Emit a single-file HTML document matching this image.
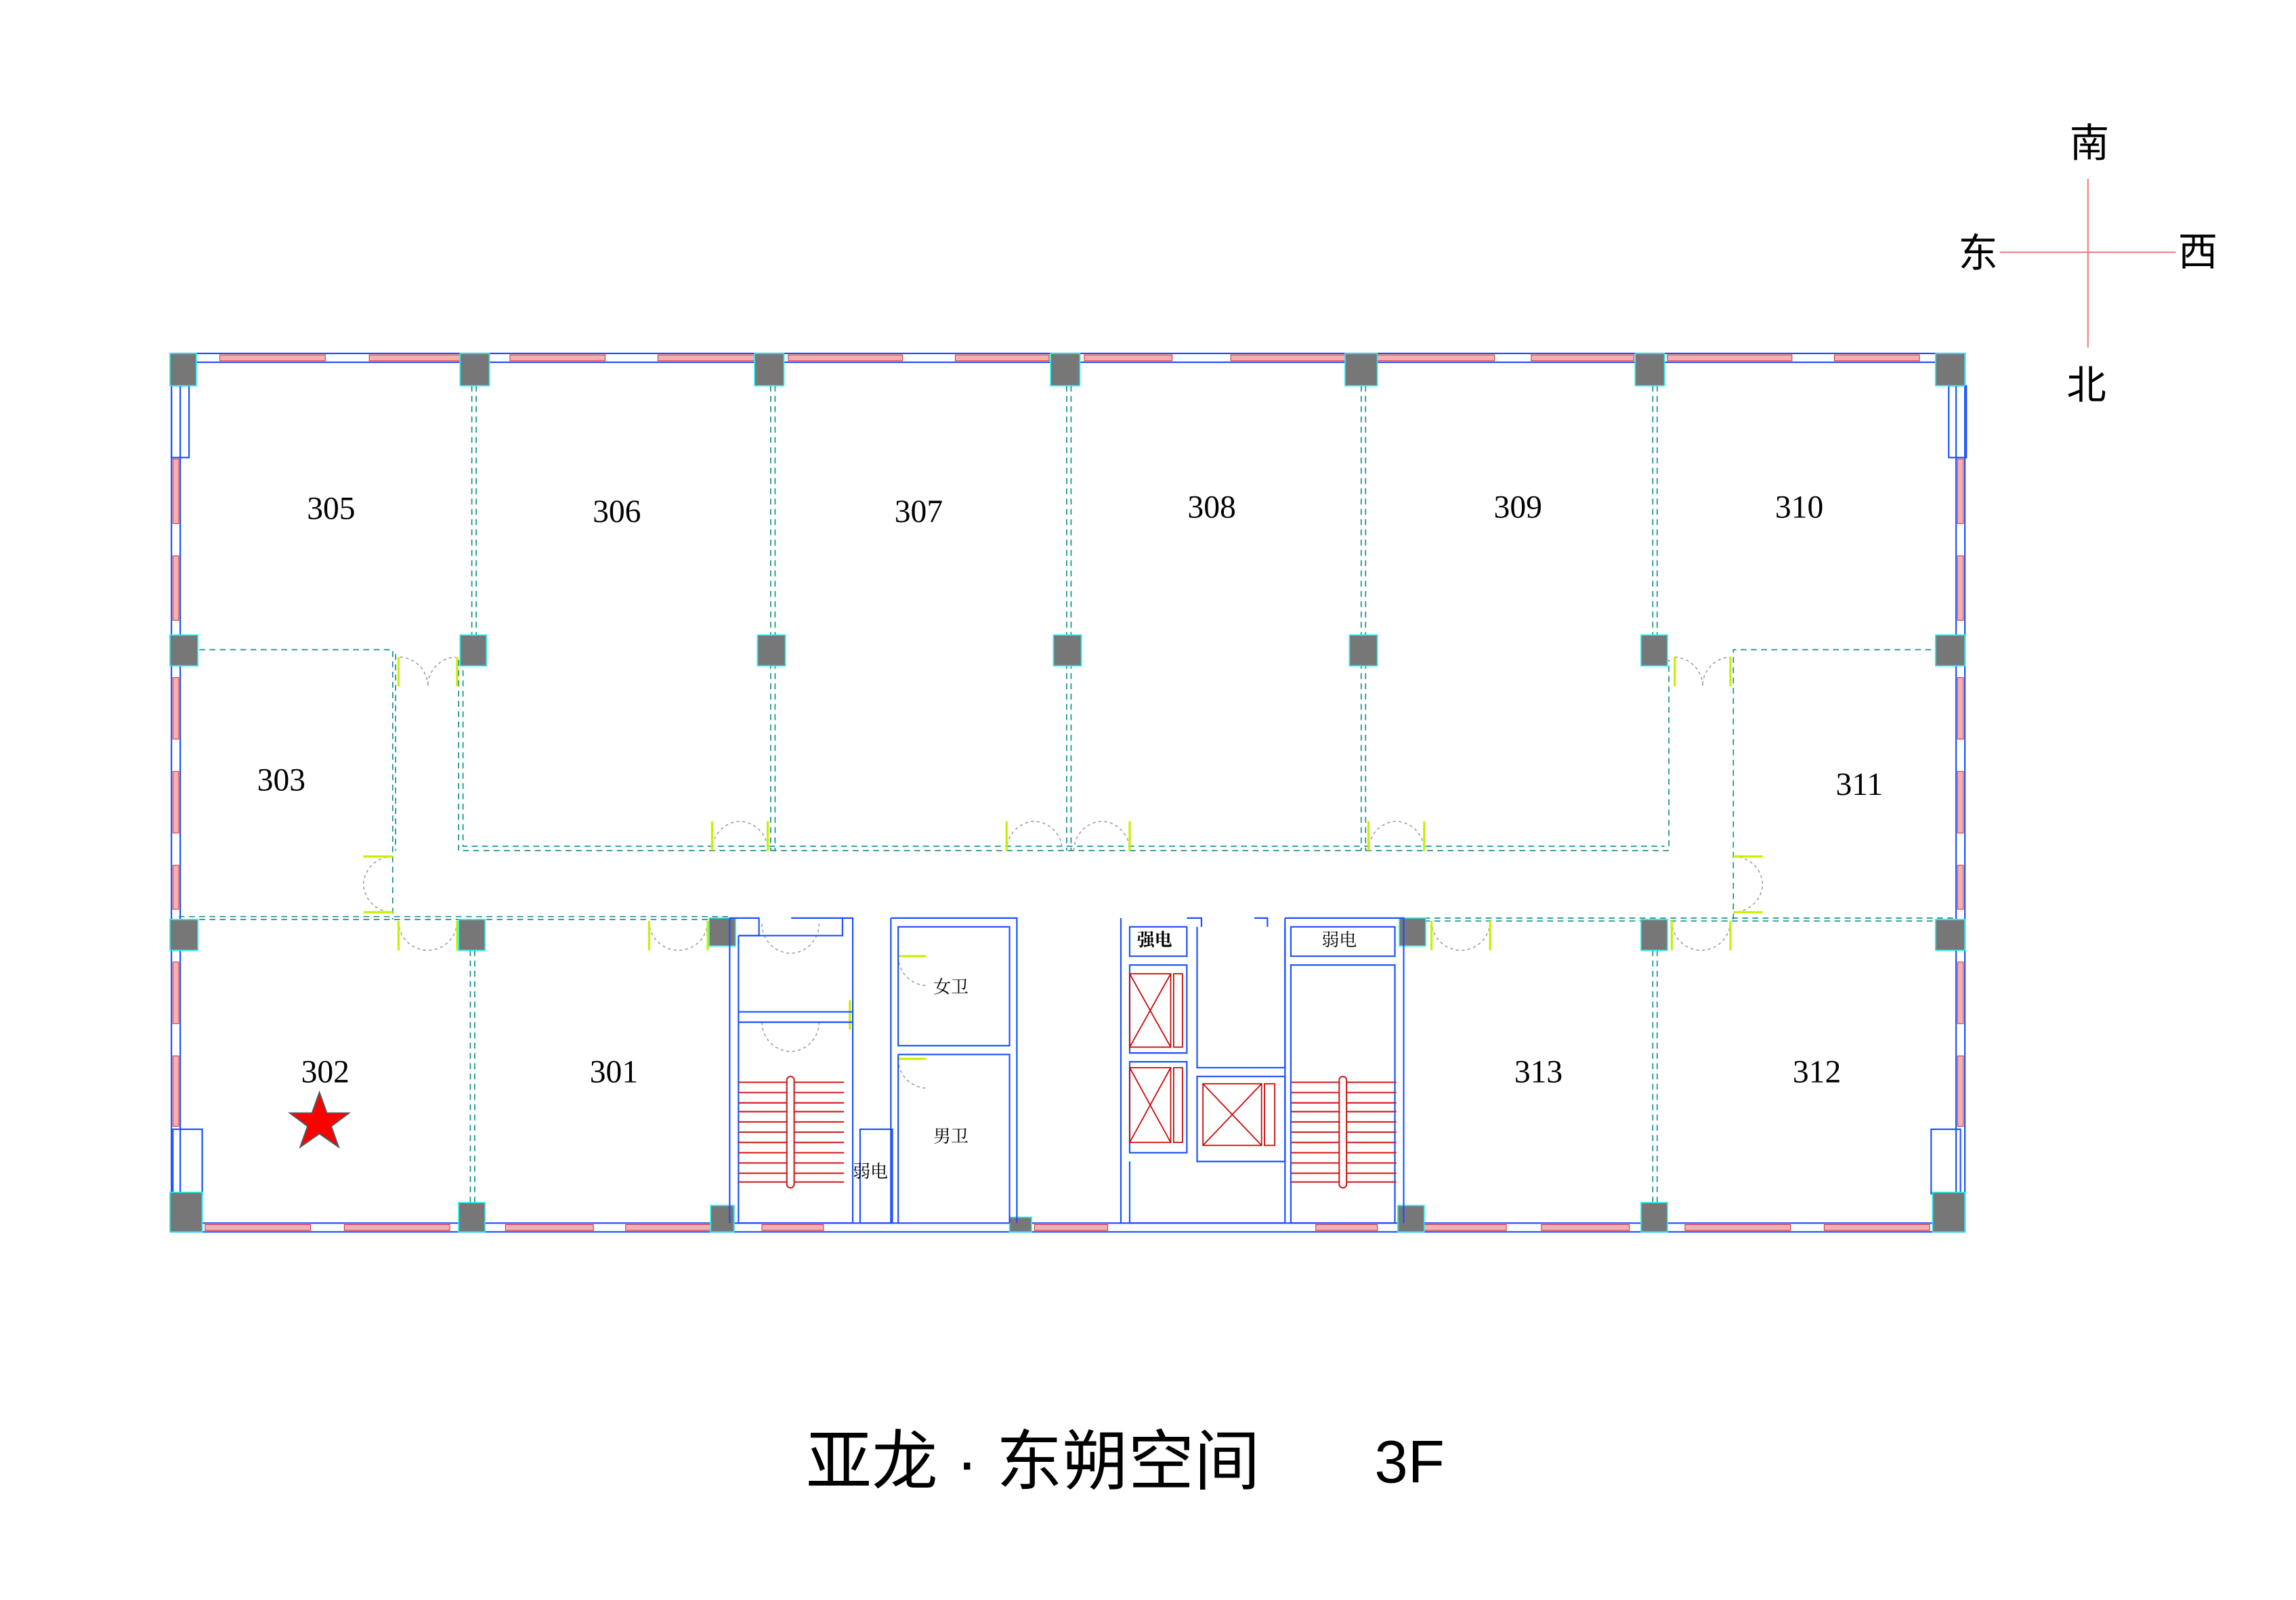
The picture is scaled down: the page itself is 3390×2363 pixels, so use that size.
<!DOCTYPE html>
<html><head><meta charset="utf-8"><style>
html,body{margin:0;padding:0;background:#fff}
svg{display:block}
text{font-family:"Liberation Serif","Noto Serif CJK SC",serif}
.cj{font-family:"Liberation Sans","Noto Sans CJK SC",sans-serif}
</style></head><body>
<svg width="3390" height="2363" viewBox="0 0 1567 1091" preserveAspectRatio="none" xmlns="http://www.w3.org/2000/svg">
<rect width="1600" height="1100" fill="#fff"/>
<!-- compass -->
<line x1="1365" y1="172" x2="1485" y2="172" stroke="#f08080" stroke-width="1"/>
<line x1="1425" y1="122" x2="1425" y2="237" stroke="#f08080" stroke-width="1"/>
<text class="cj" x="1426" y="107" font-size="27" text-anchor="middle">南</text>
<text class="cj" x="1350" y="182" font-size="27" text-anchor="middle">东</text>
<text class="cj" x="1500" y="181" font-size="27" text-anchor="middle">西</text>
<text class="cj" x="1424" y="272" font-size="27" text-anchor="middle">北</text>

<!-- outer walls -->
<g fill="none" stroke="#1a4fff" stroke-width="1">
<rect x="117" y="241" width="1224" height="599"/>
<rect x="123" y="247" width="1212" height="587"/>
</g>
<!-- windows pink bands -->
<g fill="#f6b0b0" stroke="#e03030" stroke-width="0.5">
<rect x="150" y="242" width="72" height="4"/><rect x="252" y="242" width="62" height="4"/>
<rect x="348" y="242" width="65" height="4"/><rect x="449" y="242" width="66" height="4"/>
<rect x="538" y="242" width="78" height="4"/><rect x="652" y="242" width="64" height="4"/>
<rect x="740" y="242" width="60" height="4"/><rect x="840" y="242" width="78" height="4"/>
<rect x="940" y="242" width="80" height="4"/><rect x="1045" y="242" width="70" height="4"/>
<rect x="1138" y="242" width="85" height="4"/><rect x="1252" y="242" width="58" height="4"/>
<rect x="140" y="835" width="72" height="4"/><rect x="235" y="835" width="72" height="4"/>
<rect x="345" y="835" width="60" height="4"/><rect x="427" y="835" width="58" height="4"/>
<rect x="520" y="835" width="42" height="4"/><rect x="706" y="835" width="50" height="4"/>
<rect x="898" y="835" width="42" height="4"/><rect x="972" y="835" width="56" height="4"/>
<rect x="1052" y="835" width="60" height="4"/><rect x="1150" y="835" width="72" height="4"/>
<rect x="1245" y="835" width="72" height="4"/>
<rect x="118" y="313" width="4" height="44"/><rect x="118" y="379" width="4" height="44"/>
<rect x="118" y="462" width="4" height="42"/><rect x="118" y="526" width="4" height="42"/>
<rect x="118" y="590" width="4" height="30"/><rect x="118" y="656" width="4" height="42"/>
<rect x="118" y="720" width="4" height="48"/>
<rect x="1336" y="313" width="4" height="44"/><rect x="1336" y="379" width="4" height="44"/>
<rect x="1336" y="462" width="4" height="42"/><rect x="1336" y="526" width="4" height="42"/>
<rect x="1336" y="590" width="4" height="30"/><rect x="1336" y="656" width="4" height="42"/>
<rect x="1336" y="720" width="4" height="48"/>
</g>
<g fill="none" stroke="#1a4fff" stroke-width="1">
<rect x="117" y="263" width="12" height="49"/><rect x="1330" y="263" width="12" height="49"/>
<rect x="118" y="770" width="20" height="44"/><rect x="1318" y="770" width="20" height="44"/>
</g>

<!-- dashed partitions -->
<g fill="none" stroke="#1a9090" stroke-width="0.8" stroke-dasharray="4,3">
<path d="M313 450 V580 H1139 V450"/>
<path d="M316 450 V577 H1136"/>
<path d="M136 443 H268 V627"/><path d="M270 446 V580"/>
<path d="M1183 627 V443 H1322"/>
<path d="M122 625 H500"/><path d="M122 627 H500"/>
<path d="M958 626 H1335"/><path d="M958 628 H1335"/>
<line x1="322" y1="263" x2="322" y2="433"/><line x1="325" y1="263" x2="325" y2="433"/>
<line x1="526" y1="263" x2="526" y2="580"/><line x1="529" y1="263" x2="529" y2="580"/>
<line x1="728" y1="263" x2="728" y2="580"/><line x1="731" y1="263" x2="731" y2="580"/>
<line x1="929" y1="263" x2="929" y2="580"/><line x1="932" y1="263" x2="932" y2="580"/>
<line x1="1128" y1="263" x2="1128" y2="433"/><line x1="1131" y1="263" x2="1131" y2="433"/>
<line x1="321" y1="648" x2="321" y2="820"/><line x1="324" y1="648" x2="324" y2="820"/>
<line x1="1128" y1="648" x2="1128" y2="820"/><line x1="1131" y1="648" x2="1131" y2="820"/>
</g>

<!-- doors -->
<g fill="none" stroke="#999" stroke-width="0.7" stroke-dasharray="2,2">
<path d="M273 448 A20 20 0 0 1 292 468 A20 20 0 0 1 311 448"/>
<path d="M1143 448 A20 20 0 0 1 1162 468 A20 20 0 0 1 1181 448"/>
<path d="M486 580 A20 20 0 0 1 505 560 A20 20 0 0 1 524 580"/>
<path d="M687 580 A20 20 0 0 1 706 560 A20 20 0 0 1 725 580"/>
<path d="M733 580 A20 20 0 0 1 752 560 A20 20 0 0 1 771 580"/>
<path d="M934 580 A20 20 0 0 1 953 560 A20 20 0 0 1 972 580"/>
<path d="M268 584 A20 20 0 0 0 248 603 A20 20 0 0 0 268 622"/>
<path d="M1183 584 A20 20 0 0 1 1203 603 A20 20 0 0 1 1183 622"/>
<path d="M272 628 A20 20 0 0 0 292 648 A20 20 0 0 0 312 628"/>
<path d="M443 628 A20 20 0 0 0 463 648 A20 20 0 0 0 483 628"/>
<path d="M977 628 A20 20 0 0 0 997 648 A20 20 0 0 0 1017 628"/>
<path d="M1141 628 A20 20 0 0 0 1161 648 A20 20 0 0 0 1181 628"/>
<path d="M520 630 A20 20 0 0 0 540 650 A20 20 0 0 0 559 630"/>
<path d="M520 697 A20 20 0 0 0 540 717 A20 20 0 0 0 559 697"/>
<path d="M613 652 A20 20 0 0 0 632 672"/>
<path d="M613 722 A20 20 0 0 0 632 742"/>
</g>
<g stroke="#c8f000" stroke-width="1.5" fill="none">
<path d="M272 448 V468 M312 448 V468 M486 560 V580 M524 560 V580 M687 560 V580 M771 560 V580 M934 560 V580 M972 560 V580"/>
<path d="M248 584 H268 M248 622 H268 M1183 584 H1203 M1183 622 H1203"/>
<path d="M272 628 V648 M312 628 V648 M443 628 V648 M483 628 V648 M977 628 V648 M1017 628 V648 M1141 628 V648 M1181 628 V648"/>
<path d="M1143 448 V468 M1181 448 V468 M613 652 H632 M613 722 H632 M580 682 V702"/>
</g>

<!-- columns -->
<g fill="#777" stroke="#2ee" stroke-width="0.8">
<rect x="116" y="241" width="18" height="22"/><rect x="314" y="241" width="20" height="22"/>
<rect x="515" y="241" width="20" height="22"/><rect x="717" y="241" width="20" height="22"/>
<rect x="918" y="241" width="22" height="22"/><rect x="1116" y="241" width="20" height="22"/>
<rect x="1321" y="241" width="20" height="22"/>
<rect x="116" y="433" width="19" height="21"/><rect x="314" y="433" width="18" height="21"/>
<rect x="517" y="433" width="19" height="21"/><rect x="719" y="433" width="19" height="21"/>
<rect x="921" y="433" width="19" height="21"/><rect x="1120" y="433" width="18" height="21"/>
<rect x="1321" y="433" width="20" height="21"/>
<rect x="116" y="627" width="19" height="21"/><rect x="313" y="627" width="18" height="21"/>
<rect x="484" y="626" width="18" height="19"/><rect x="955" y="626" width="18" height="19"/>
<rect x="1120" y="627" width="18" height="21"/><rect x="1321" y="627" width="20" height="21"/>
<rect x="116" y="813" width="22" height="27"/><rect x="313" y="820" width="18" height="20"/>
<rect x="485" y="822" width="16" height="18"/><rect x="689" y="830" width="15" height="10"/>
<rect x="954" y="822" width="18" height="18"/><rect x="1120" y="820" width="18" height="20"/>
<rect x="1319" y="813" width="22" height="27"/>
</g>

<!-- core walls -->
<g fill="none" stroke="#1a4fff" stroke-width="1">
<path d="M498 626 V834 M504 638 V834 H582 V626 H575 V638 H504"/>
<path d="M504 638 H518 V626 H498 M540 626 H575"/>
<path d="M504 690 H582 M504 697 H582"/>
<rect x="587" y="770" width="22" height="64"/>
<path d="M608 626 H694 V834 M613 632 H689 V713 H613 Z M613 719 H689 V834"/>
<path d="M608 626 V834 M613 719 V834"/>
<path d="M765 626 V834 M771 632 H810 V652 H771 Z M771 658 H810 V718 H771 Z M771 724 H810 V786 H771 Z M771 792 V834 H877"/>
<path d="M810 626 H820 V632 M856 626 H865 V632 M817 632 V728 H877 V632 M817 734 H877 V792 H817 Z"/>
<path d="M877 626 H958 V834 M881 632 H952 V652 H881 Z M881 658 V834 H952 V658 Z M877 626 V834"/>
</g>
<!-- elevators -->
<g fill="none" stroke="#c00" stroke-width="0.8">
<rect x="771" y="664" width="28" height="50"/><rect x="801" y="664" width="6" height="50"/>
<path d="M771 664 L799 714 M799 664 L771 714"/>
<rect x="771" y="728" width="28" height="51"/><rect x="801" y="728" width="6" height="51"/>
<path d="M771 728 L799 779 M799 728 L771 779"/>
<rect x="821" y="739" width="40" height="42"/><rect x="863" y="739" width="7" height="42"/>
<path d="M821 739 L861 781 M861 739 L821 781"/>
</g>
<!-- stairs -->
<g stroke="#d02020" stroke-width="1">
<path d="M504 738H576M504 745H576M504 752H576M504 758H576M504 765H576M504 772H576M504 779H576M504 786H576M504 793H576M504 800H576M504 806H576"/>
<path d="M881 738H953M881 745H953M881 752H953M881 758H953M881 765H953M881 772H953M881 779H953M881 786H953M881 793H953M881 800H953M881 806H953"/>
</g>
<rect x="537" y="734" width="5" height="76" rx="2.5" fill="#fff" stroke="#d02020" stroke-width="1"/>
<rect x="914" y="734" width="5" height="76" rx="2.5" fill="#fff" stroke="#d02020" stroke-width="1"/>

<g class="cj" font-size="12" text-anchor="middle">
<text x="649" y="677">女卫</text><text x="649" y="779">男卫</text>
<text x="594" y="803">弱电</text><text x="788" y="645" font-weight="bold">强电</text>
<text x="914" y="645">弱电</text>
</g>

<!-- room labels -->
<g font-size="22" text-anchor="middle">
<text x="226" y="354">305</text><text x="421" y="356">306</text>
<text x="627" y="356">307</text><text x="827" y="353">308</text>
<text x="1036" y="353">309</text><text x="1228" y="353">310</text>
<text x="192" y="539">303</text><text x="1269" y="542">311</text>
<text x="222" y="738">302</text><text x="419" y="738">301</text>
<text x="1050" y="738">313</text><text x="1240" y="738">312</text>
</g>
<polygon points="218,745 223,759 238,759 226,768 231,782 218,773 205,782 210,768 198,759 213,759" fill="#ff0000" stroke="#555" stroke-width="1"/>

<text class="cj" x="705" y="1012" font-size="45" text-anchor="middle">亚龙 · 东朔空间</text>
<text class="cj" x="962" y="1011" font-size="41" text-anchor="middle">3F</text>
</svg>
</body></html>
